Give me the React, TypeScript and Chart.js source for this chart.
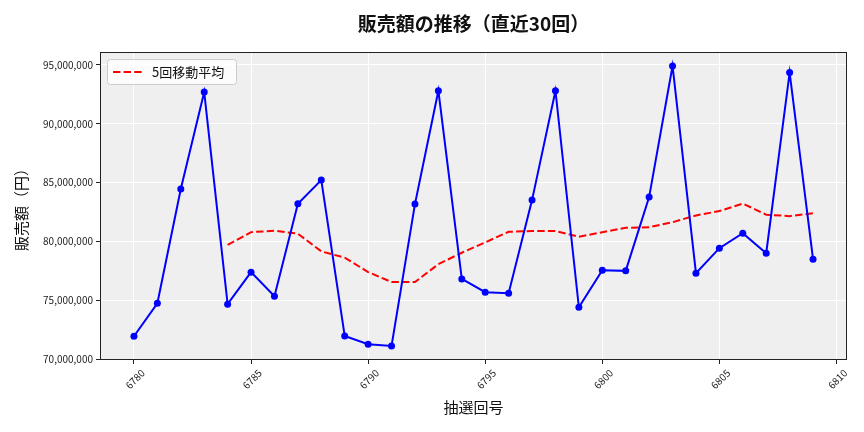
import { useEffect, useRef } from 'react';
import { Chart, registerables } from 'chart.js';
import type { Plugin } from 'chart.js';

Chart.register(...registerables);

// ── Data ──

const rounds = [
  6780, 6781, 6782, 6783, 6784, 6785, 6786, 6787, 6788, 6789,
  6790, 6791, 6792, 6793, 6794, 6795, 6796, 6797, 6798, 6799,
  6800, 6801, 6802, 6803, 6804, 6805, 6806, 6807, 6808, 6809,
];

const sales = [
  71960000, 74760000, 84460000, 92700000, 74680000, 77400000, 75360000, 83210000, 85220000, 71980000,
  71280000, 71130000, 83180000, 92810000, 76830000, 75700000, 75610000, 83520000, 92810000, 74420000,
  77570000, 77510000, 83780000, 94910000, 77310000, 79440000, 80710000, 79010000, 94350000, 78500000,
];

const movingAvg = [
  null, null, null, null, 79710000, 80800000, 80920000, 80670000, 79170000, 78630000,
  77410000, 76560000, 76560000, 78080000, 79050000, 79930000, 80830000, 80890000, 80890000, 80410000,
  80790000, 81170000, 81220000, 81640000, 82220000, 82590000, 83230000, 82280000, 82160000, 82400000,
];

const xTicks = [6780, 6785, 6790, 6795, 6800, 6805, 6810];
const yTicks = [70000000, 75000000, 80000000, 85000000, 90000000, 95000000];

const TITLE = '販売額の推移（直近30回）';
const X_LABEL = '抽選回号';
const Y_LABEL = '販売額（円）';
const MA_LABEL = '5回移動平均';

const FONT = "'Noto Sans CJK JP', 'Noto Sans', sans-serif";

// ── Plugins ──

const backdrop: Plugin = {
  id: 'backdrop',
  beforeDraw(chart) {
    const { ctx, chartArea: a } = chart;
    ctx.save();
    ctx.fillStyle = '#ffffff';
    ctx.fillRect(0, 0, chart.width, chart.height);
    ctx.fillStyle = '#efefef';
    ctx.fillRect(a.left, a.top, a.right - a.left, a.bottom - a.top);
    ctx.restore();
  },
  afterDraw(chart) {
    const { ctx, chartArea: a } = chart;
    ctx.save();
    // frame
    ctx.strokeStyle = '#222222';
    ctx.lineWidth = 1;
    ctx.strokeRect(a.left + 0.5, a.top + 0.5, a.right - a.left - 1, a.bottom - a.top - 1);

    // title
    ctx.fillStyle = '#111111';
    ctx.font = `bold 19px ${FONT}`;
    ctx.textAlign = 'center';
    ctx.textBaseline = 'middle';
    ctx.fillText(TITLE, (a.left + a.right) / 2, 24);

    // legend
    const lx = a.left + 7;
    const ly = a.top + 7;
    ctx.fillStyle = 'rgba(255,255,255,0.8)';
    ctx.strokeStyle = '#cccccc';
    ctx.beginPath();
    ctx.roundRect(lx + 0.5, ly + 0.5, 129, 25, 3);
    ctx.fill();
    ctx.stroke();
    ctx.strokeStyle = '#ff0000';
    ctx.lineWidth = 2;
    ctx.setLineDash([7.4, 3.2]);
    ctx.beginPath();
    ctx.moveTo(lx + 6, ly + 13);
    ctx.lineTo(lx + 35, ly + 13);
    ctx.stroke();
    ctx.setLineDash([]);
    ctx.fillStyle = '#111111';
    ctx.font = `13px ${FONT}`;
    ctx.textAlign = 'left';
    ctx.fillText(MA_LABEL, lx + 45, ly + 13.5);
    ctx.restore();
  },
};

// ── Chart ──

function SalesChart() {
  const canvasRef = useRef<HTMLCanvasElement>(null);

  useEffect(() => {
    if (!canvasRef.current) return;

    const chart = new Chart(canvasRef.current, {
      type: 'line',
      data: {
        datasets: [
          {
            label: '販売額',
            data: rounds.map((r, i) => ({ x: r, y: sales[i] })),
            borderColor: '#0000ff',
            backgroundColor: '#0000ff',
            borderWidth: 2,
            pointRadius: 3.5,
            pointBorderWidth: 0,
            tension: 0,
          },
          {
            label: MA_LABEL,
            data: rounds.map((r, i) => ({ x: r, y: movingAvg[i] })),
            borderColor: '#ff0000',
            borderWidth: 2,
            borderDash: [7.4, 3.2],
            pointRadius: 0,
            tension: 0,
          },
        ],
      },
      options: {
        responsive: false,
        animation: false,
        layout: { padding: { left: 0, right: 17, top: 52, bottom: 0 } },
        plugins: {
          legend: { display: false },
          tooltip: { enabled: false },
        },
        scales: {
          x: {
            type: 'linear',
            min: 6778.55,
            max: 6810.45,
            afterBuildTicks: (scale) => {
              scale.ticks = xTicks.map((v) => ({ value: v }));
            },
            afterFit: (scale) => {
              scale.height = 72;
            },
            grid: { color: '#ffffff', lineWidth: 1, tickColor: '#222222', tickLength: 4 },
            border: { display: false },
            ticks: {
              minRotation: 45,
              maxRotation: 45,
              labelOffset: 9,
              padding: 3,
              color: '#222222',
              font: { family: FONT, size: 10 },
              callback: (v) => String(v),
            },
            title: {
              display: true,
              text: X_LABEL,
              color: '#111111',
              font: { family: FONT, size: 15 },
              padding: { top: 0, bottom: 16 },
            },
          },
          y: {
            min: 69940000,
            max: 96100000,
            afterBuildTicks: (scale) => {
              scale.ticks = yTicks.map((v) => ({ value: v }));
            },
            afterFit: (scale) => {
              scale.width = 100;
            },
            grid: { color: '#ffffff', lineWidth: 1, tickColor: '#222222', tickLength: 4 },
            border: { display: false },
            ticks: {
              padding: 3,
              color: '#222222',
              font: { family: FONT, size: 10 },
              callback: (v) => Number(v).toLocaleString('en-US'),
            },
            title: {
              display: true,
              text: Y_LABEL,
              color: '#111111',
              font: { family: FONT, size: 15 },
              padding: { top: 12, bottom: 0 },
            },
          },
        },
      },
      plugins: [backdrop],
    });

    return () => chart.destroy();
  }, []);

  return <canvas ref={canvasRef} width={864} height={432} />;
}

export default function App() {
  return (
    <div style={{ position: 'fixed', left: 0, top: 0, width: 864, height: 432, background: '#fff' }}>
      <SalesChart />
    </div>
  );
}
